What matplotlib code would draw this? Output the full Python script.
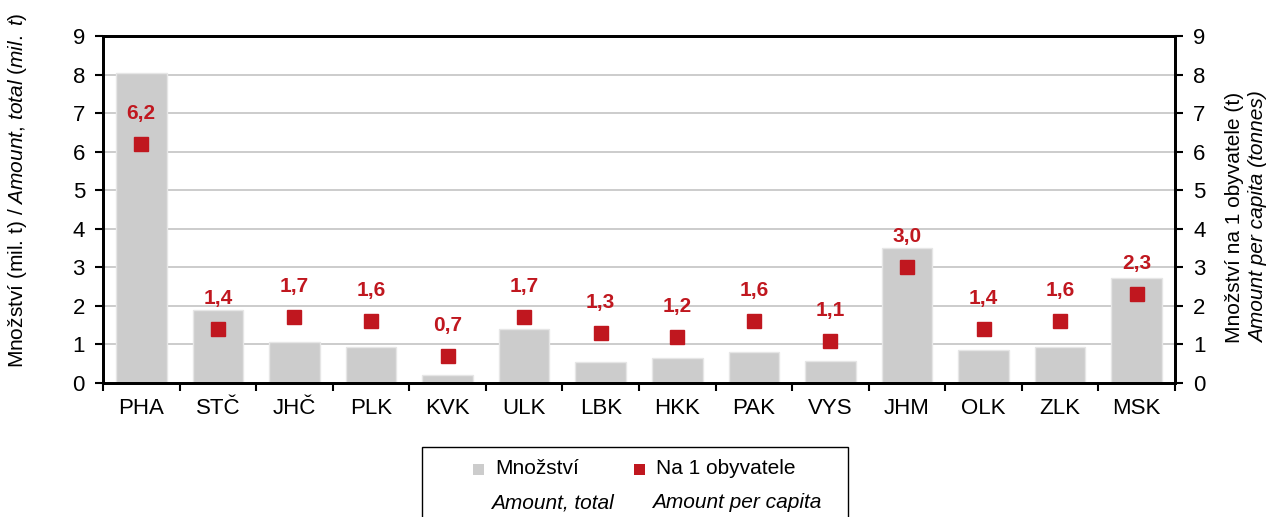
import matplotlib
matplotlib.use("Agg")
import matplotlib.pyplot as plt
from matplotlib.patches import Rectangle
import numpy as np

plt.rcParams['font.family'] = ['Liberation Sans', 'DejaVu Sans']
plt.rcParams['mathtext.fontset'] = 'custom'
plt.rcParams['mathtext.rm'] = 'Liberation Sans'
plt.rcParams['mathtext.it'] = 'Liberation Sans:italic'

regions = ["PHA", "STČ", "JHČ", "PLK", "KVK", "ULK", "LBK", "HKK", "PAK", "VYS", "JHM", "OLK", "ZLK", "MSK"]
amount_total = [8.05, 1.89, 1.07, 0.94, 0.20, 1.40, 0.55, 0.65, 0.80, 0.57, 3.50, 0.86, 0.94, 2.72]
per_capita = [6.2, 1.4, 1.7, 1.6, 0.7, 1.7, 1.3, 1.2, 1.6, 1.1, 3.0, 1.4, 1.6, 2.3]
legend_main = ["Množství", "Na 1 obyvatele"]
legend_en = ["Amount, total", "Amount per capita"]

BAR = "#CCCCCC"
RED = "#C0171F"
W, H = 1272, 517

fig = plt.figure(figsize=(12.72, 5.17), dpi=100)
ax = fig.add_axes([103/W, 1-383/H, (1175-103)/W, (383-36)/H])
ax2 = ax.twinx()

x = np.arange(len(regions))
ax.bar(x, amount_total, width=0.66, color=BAR, edgecolor="#E6E6E6", linewidth=1, zorder=2)
ax.set_xlim(-0.5, len(regions)-0.5)
ax.set_ylim(0, 9)
ax2.set_ylim(0, 9)
ax.set_yticks(range(0, 10))
ax2.set_yticks(range(0, 10))
ax.grid(axis='y', color="#C8C8C8", linewidth=1.3, zorder=0)
ax.set_axisbelow(True)

ax2.plot(x, per_capita, linestyle='none', marker='s', markersize=10.5, color=RED, zorder=5)
for xi, v in zip(x, per_capita):
    ax2.annotate(f"{v:.1f}".replace('.', ','), (xi, v), xytext=(0, 22), textcoords='offset points',
                 ha='center', va='center', color=RED, fontsize=15, fontweight='bold')

# x ticks: boundaries as ticks, labels at centers
ax.set_xticks(np.arange(-0.5, len(regions), 1.0))
ax.set_xticklabels([])
ax.set_xticks(x, minor=True)
ax.set_xticklabels(regions, minor=True, fontsize=16)
ax.tick_params(axis='x', which='minor', length=0, pad=11)
ax.tick_params(axis='x', which='major', length=6, width=1.5, direction='out')
ax.tick_params(axis='y', labelsize=16, length=6, width=1.5, direction='out', pad=7)
ax2.tick_params(axis='y', labelsize=16, length=6, width=1.5, direction='out', pad=7)

for a in (ax, ax2):
    for s in a.spines.values():
        s.set_linewidth(2)
        s.set_color('black')

fig.text(18/W, 1-190/H, r"Množství (mil. t) / $\mathit{Amount{,}\ total\ (mil.\ t)}$",
         rotation=90, ha='center', va='center', fontsize=15)
fig.text(1234/W, 1-217/H, "Množství na 1 obyvatele (t)", rotation=90, ha='center', va='center', fontsize=15)
fig.text(1259/W, 1-217/H, "Amount per capita (tonnes)", rotation=90, ha='center', va='center',
         fontsize=15, style='italic')

# legend drawn by hand
fig.patches.append(Rectangle((422/W, 1-540/H), (848-422)/W, (540-447)/H, transform=fig.transFigure,
                             facecolor='white', edgecolor='black', linewidth=1.0))
legend_colors = [BAR, RED]
square_x = [473, 634]
text_x = [495, 656]
en_x = [491, 652]
for c, sx, tx, ex, t1, t2 in zip(legend_colors, square_x, text_x, en_x, legend_main, legend_en):
    fig.patches.append(Rectangle((sx/W, 1-475/H), 11/W, 11/H, transform=fig.transFigure,
                                 facecolor=c, edgecolor='none'))
    fig.text(tx/W, 1-469/H, t1, ha='left', va='center', fontsize=15)
    fig.text(ex/W, 1-503/H, t2, ha='left', va='center', fontsize=15, style='italic')

fig.savefig("out.png", dpi=100)
